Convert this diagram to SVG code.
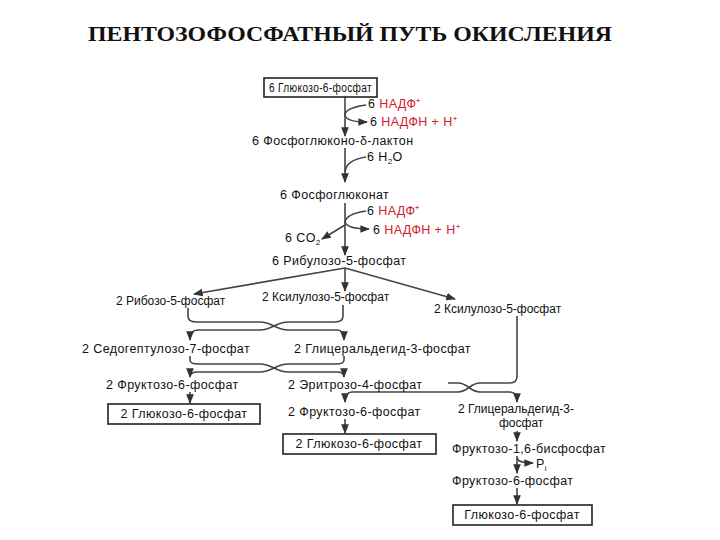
<svg xmlns="http://www.w3.org/2000/svg" width="720" height="540" viewBox="0 0 720 540">
<defs>
<marker id="ah" viewBox="0 0 10 10" refX="9" refY="5" markerWidth="6" markerHeight="6" orient="auto"><path d="M0,1 L10,5 L0,9 z" fill="#333"/></marker>
<style>
text{font-family:"Liberation Sans",Arial,sans-serif;font-size:12.5px;letter-spacing:0.4px;fill:#111}
.s{font-size:12px;letter-spacing:0}
.r{fill:#d0202a}
.t{font-family:"Liberation Serif","Times New Roman",serif;font-size:20px;font-weight:bold;letter-spacing:0}
.b{fill:#fff;stroke:#222;stroke-width:1.6}
.c{fill:none;stroke:#444;stroke-width:1.6}
.a{marker-end:url(#ah)}
</style>
</defs>
<rect width="720" height="540" fill="#fff"/>
<text class="t" x="88" y="41" textLength="524" lengthAdjust="spacingAndGlyphs">ПЕНТОЗОФОСФАТНЫЙ ПУТЬ ОКИСЛЕНИЯ</text>
<g id="connectors">
<path class="c a" d="M345 97 V136"/>
<path class="c" d="M366 105 Q345 108 345 115"/>
<path class="c a" d="M345 115 Q346 122 367 122"/>
<path class="c a" d="M345 148 V182"/>
<path class="c" d="M366 157 Q346 160 345 172"/>
<path class="c a" d="M345 203 V255"/>
<path class="c" d="M366 211 Q346 214 345 222"/>
<path class="c a" d="M345 222 Q347 229 369 229"/>
<path class="c a" d="M345 225 L322 239"/>
<path class="c a" d="M345 268 L194 294"/>
<path class="c a" d="M345 268 V291"/>
<path class="c a" d="M345 268 L455 299"/>
<path class="c a" d="M188 308 V316 Q188 322 196 322 H260 C272 322 276 330 288 330 H337 Q344 330 344 340"/>
<path class="c a" d="M343 305 V316 Q343 322 335 322 H288 C276 322 272 330 260 330 H198 Q190 330 190 340"/>
<path class="c a" d="M190 356 V360 Q190 364 198 364 H260 C272 364 276 372 288 372 H337 Q344 372 344 377"/>
<path class="c a" d="M344 356 V360 Q344 364 336 364 H288 C276 364 272 372 260 372 H198 Q190 372 190 377"/>
<path class="c a" d="M190 392 V403"/>
<path class="c a" d="M517 316 V376 Q517 383 510 383 H480 C470 383 468 392 458 392 H352 Q345 392 345 402"/>
<path class="c a" d="M448 383 H458 C468 383 470 392 480 392 H510 Q517 392 517 402"/>
<path class="c a" d="M345 419 V433"/>
<path class="c a" d="M517 431 V441"/>
<path class="c a" d="M517 456 V473"/>
<path class="c a" d="M517 458 Q518 463 533 463"/>
<path class="c a" d="M517 488 V504"/>
</g>
<g id="n1"><rect class="b" x="264" y="78" width="113" height="19"/><text x="269" y="92" textLength="103" lengthAdjust="spacingAndGlyphs">6 Глюкозо-6-фосфат</text></g>
<g id="nadp1"><text x="368" y="108">6 <tspan class="r">НАДФ⁺</tspan></text></g>
<g id="nadph1"><text x="370" y="126">6 <tspan class="r">НАДФН + Н⁺</tspan></text></g>
<g id="n2"><text x="252" y="145">6  Фосфоглюконо-δ-лактон</text></g>
<g id="h2o"><text x="367" y="161">6  H<tspan font-size="8" dy="3">2</tspan><tspan dy="-3">O</tspan></text></g>
<g id="n3"><text x="280" y="199">6  Фосфоглюконат</text></g>
<g id="nadp2"><text x="367" y="215">6 <tspan class="r">НАДФ⁺</tspan></text></g>
<g id="nadph2"><text x="373" y="234">6 <tspan class="r">НАДФН + Н⁺</tspan></text></g>
<g id="co2"><text x="285" y="242">6 CO<tspan font-size="8" dy="3">2</tspan></text></g>
<g id="n4"><text x="272" y="265">6 Рибулозо-5-фосфат</text></g>
<g id="n5"><text class="s" x="116" y="305">2 Рибозо-5-фосфат</text></g>
<g id="n6"><text class="s" x="262" y="301">2 Ксилулозо-5-фосфат</text></g>
<g id="n7"><text class="s" x="434" y="313">2 Ксилулозо-5-фосфат</text></g>
<g id="n8"><text x="82" y="353">2 Седогептулозо-7-фосфат</text></g>
<g id="n9"><text x="294" y="353">2 Глицеральдегид-3-фосфат</text></g>
<g id="n10"><text x="106" y="389">2 Фруктозо-6-фосфат</text></g>
<g id="n11"><text x="288" y="389">2 Эритрозо-4-фосфат</text></g>
<g id="n12"><rect class="b" x="108" y="404" width="152" height="20"/><text x="184" y="418" text-anchor="middle">2 Глюкозо-6-фосфат</text></g>
<g id="n13"><text x="288" y="416">2 Фруктозо-6-фосфат</text></g>
<g id="n14"><text class="s" x="458" y="413">2 Глицеральдегид-3-</text><text class="s" x="499" y="427">фосфат</text></g>
<g id="n15"><rect class="b" x="283" y="434" width="153" height="20"/><text x="359" y="448" text-anchor="middle">2 Глюкозо-6-фосфат</text></g>
<g id="n16"><text x="452" y="453">Фруктозо-1,6-бисфосфат</text></g>
<g id="pi"><text x="536" y="468">P<tspan font-size="8" dy="3">i</tspan></text></g>
<g id="n17"><text x="452" y="485">Фруктозо-6-фосфат</text></g>
<g id="n18"><rect class="b" x="453" y="505" width="139" height="20"/><text x="522" y="519" text-anchor="middle">Глюкозо-6-фосфат</text></g>
</svg>
